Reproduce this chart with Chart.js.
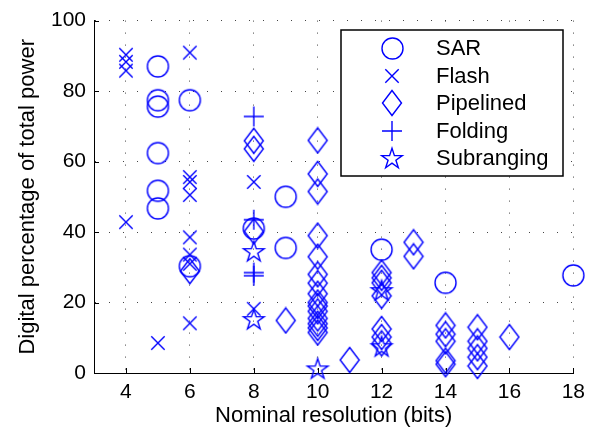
<!DOCTYPE html>
<html>
<head>
<meta charset="utf-8">
<script src="https://cdn.jsdelivr.net/npm/chart.js@4.4.0/dist/chart.umd.min.js"></script>
<style>
    html, body { margin: 0; padding: 0; background: #fff; }
    #caixa { width: 592px; height: 434px; }
</style>
</head>
<body>
<div id="caixa"><canvas id="grafico"></canvas></div>
<script>
// ticks
const xTicks = [4, 6, 8, 10, 12, 14, 16, 18];
const yTicks = [0, 20, 40, 60, 80, 100];

const nomesSeries = ['SAR', 'Flash', 'Pipelined', 'Folding', 'Subranging'];

// SAR
const sarX = [5, 5, 5, 5, 5, 5, 6, 6, 8, 9, 9, 12, 14, 18];
const sarY = [87, 77.4, 75.6, 62.4, 51.7, 46.7, 77.4, 30.3, 41, 50, 35.5, 35, 25.6, 27.7];

// Flash
const flashX = [4, 4, 4, 4, 5, 6, 6, 6, 6, 6, 6, 6, 6, 8, 8];
const flashY = [90.3, 88.3, 85.8, 42.8, 8.5, 90.9, 55.6, 54.2, 50.5, 38.5, 33.6, 31, 14.1, 54.2, 18.2];

// Pipelined
const pipeX = [6, 8, 8, 8, 9,
    10, 10, 10, 10, 10, 10, 10, 10, 10, 10, 10, 10, 10, 10, 10,
    11, 12, 12, 12, 12, 12, 12, 12, 13, 13,
    14, 14, 14, 14, 14, 15, 15, 15, 15, 15, 16];
const pipeY = [28.9, 65.9, 63.6, 40.2, 14.9,
    66, 56.5, 51.5, 39, 33, 28, 25.5, 22.5, 20, 19, 17.5, 15.5, 14, 12.8, 11.5,
    3.7, 28.5, 27, 25.6, 21.9, 12.5, 10.2, 8.4, 37.1, 33.1,
    13.5, 11, 9, 3.5, 2.5, 13, 9, 7, 4.5, 2, 10.2];

// Folding
const foldX = [8, 8, 8, 8];
const foldY = [72.8, 43.5, 28.5, 27.6];

// Subranging
const subX = [8, 8, 10, 12, 12];
const subY = [34.6, 15.3, 1.3, 23.5, 7.6];

const azul = '#0000ff';

function criarMarcador(tipo) {
    const c = document.createElement('canvas');
    let w = 25, h = 25;
    if (tipo === 'x') { w = 16; h = 16; }
    if (tipo === 'diamante') { w = 22; h = 28; }
    if (tipo === 'mais') { w = 22; h = 22; }
    if (tipo === 'estrela') { w = 26; h = 26; }
    c.width = w; c.height = h;
    const ctx = c.getContext('2d');
    ctx.strokeStyle = azul;
    ctx.lineWidth = 1.4;
    ctx.beginPath();
    if (tipo === 'circulo') {
        ctx.arc(w / 2, h / 2, 10.5, 0, Math.PI * 2);
    } else if (tipo === 'x') {
        ctx.moveTo(1.3, 1.3); ctx.lineTo(14.7, 14.7);
        ctx.moveTo(14.7, 1.3); ctx.lineTo(1.3, 14.7);
    } else if (tipo === 'diamante') {
        ctx.moveTo(11, 1.5); ctx.lineTo(20.5, 14); ctx.lineTo(11, 26.5); ctx.lineTo(1.5, 14); ctx.closePath();
    } else if (tipo === 'mais') {
        ctx.moveTo(1, 11); ctx.lineTo(21, 11);
        ctx.moveTo(11, 1); ctx.lineTo(11, 21);
    } else if (tipo === 'estrela') {
        const R = 10.8, r = R * 0.382, cx = 13, cy = 14;
        for (let i = 0; i < 10; i++) {
            const raio = i % 2 === 0 ? R : r;
            const ang = -Math.PI / 2 + i * Math.PI / 5;
            const px = cx + raio * Math.cos(ang);
            const py = cy + raio * Math.sin(ang);
            if (i === 0) ctx.moveTo(px, py); else ctx.lineTo(px, py);
        }
        ctx.closePath();
    }
    ctx.stroke();
    return c;
}

function montarPontos(xs, ys) {
    let pontos = [];
    for (let i = 0; i < xs.length; i++) {
        pontos.push({ x: xs[i], y: ys[i] });
    }
    return pontos;
}

const marcadores = ['circulo', 'x', 'diamante', 'mais', 'estrela'];
const seriesX = [sarX, flashX, pipeX, foldX, subX];
const seriesY = [sarY, flashY, pipeY, foldY, subY];

var datasets = [];
for (let i = 0; i < nomesSeries.length; i++) {
    datasets.push({
        label: nomesSeries[i],
        data: montarPontos(seriesX[i], seriesY[i]),
        pointStyle: criarMarcador(marcadores[i]),
        pointRadius: 10,
        showLine: false,
        clip: false
    });
}

const fonte = 'Liberation Sans';

const marcasInternas = {
    id: 'marcasInternas',
    beforeDatasetsDraw(chart) {
        const { ctx, chartArea: a, scales: { x, y } } = chart;
        ctx.save();
        ctx.strokeStyle = '#000';
        ctx.lineWidth = 1;
        ctx.beginPath();
        xTicks.forEach(v => {
            const px = Math.round(x.getPixelForValue(v)) + 0.5;
            ctx.moveTo(px, a.bottom); ctx.lineTo(px, a.bottom - 5);
        });
        yTicks.forEach(v => {
            const py = Math.round(y.getPixelForValue(v)) + 0.5;
            ctx.moveTo(a.left, py); ctx.lineTo(a.left + 5, py);
        });
        ctx.stroke();
        ctx.restore();
    }
};

const legendaCaixa = {
    id: 'legendaCaixa',
    afterDraw(chart) {
        const ctx = chart.ctx;
        ctx.save();
        ctx.fillStyle = '#fff';
        ctx.fillRect(341, 30, 222, 146);
        ctx.strokeStyle = '#000';
        ctx.lineWidth = 1.5;
        ctx.strokeRect(341, 30, 222, 146);
        ctx.font = '22px "' + fonte + '"';
        ctx.fillStyle = '#000';
        ctx.textBaseline = 'middle';
        chart.data.datasets.forEach((ds, i) => {
            const cy = 48.3 + i * 27.5;
            const img = ds.pointStyle;
            ctx.drawImage(img, Math.round(392 - img.width / 2), Math.round(cy - img.height / 2));
            ctx.fillText(ds.label, 436, cy + 1);
        });
        ctx.restore();
    }
};

const grafico = new Chart(document.getElementById('grafico'), {
    type: 'scatter',
    data: { datasets: datasets },
    options: {
        responsive: true,
        maintainAspectRatio: false,
        animation: false,
        events: [],
        layout: { padding: { top: 17, right: 16, left: 0, bottom: 0 } },
        plugins: {
            legend: { display: false },
            tooltip: { enabled: false }
        },
        scales: {
            x: {
                type: 'linear',
                min: 3,
                max: 18,
                afterBuildTicks: s => { s.ticks = xTicks.map(v => ({ value: v })); },
                afterFit: s => { s.height = 61; },
                grid: { color: '#444', lineWidth: 1, drawTicks: false },
                border: { display: true, color: '#000', width: 1, dash: [1, 11] },
                ticks: { color: '#000', font: { family: fonte, size: 21 }, padding: 7, maxRotation: 0 },
                title: {
                    display: true, text: 'Nominal resolution (bits)', color: '#000',
                    font: { family: fonte, size: 22 }, padding: { top: 0, bottom: 5 }
                }
            },
            y: {
                type: 'linear',
                min: 0,
                max: 100,
                afterBuildTicks: s => { s.ticks = yTicks.map(v => ({ value: v })); },
                afterFit: s => { s.width = 94; },
                grid: { color: '#444', lineWidth: 1, drawTicks: false },
                border: { display: true, color: '#000', width: 1, dash: [1, 13] },
                ticks: { color: '#000', font: { family: fonte, size: 21 }, padding: 8 },
                title: {
                    display: true, text: 'Digital percentage of total power', color: '#000',
                    font: { family: fonte, size: 22 }, padding: { top: 15, bottom: 0 }
                }
            }
        }
    },
    plugins: [marcasInternas, legendaCaixa]
});
</script>
</body>
</html>
